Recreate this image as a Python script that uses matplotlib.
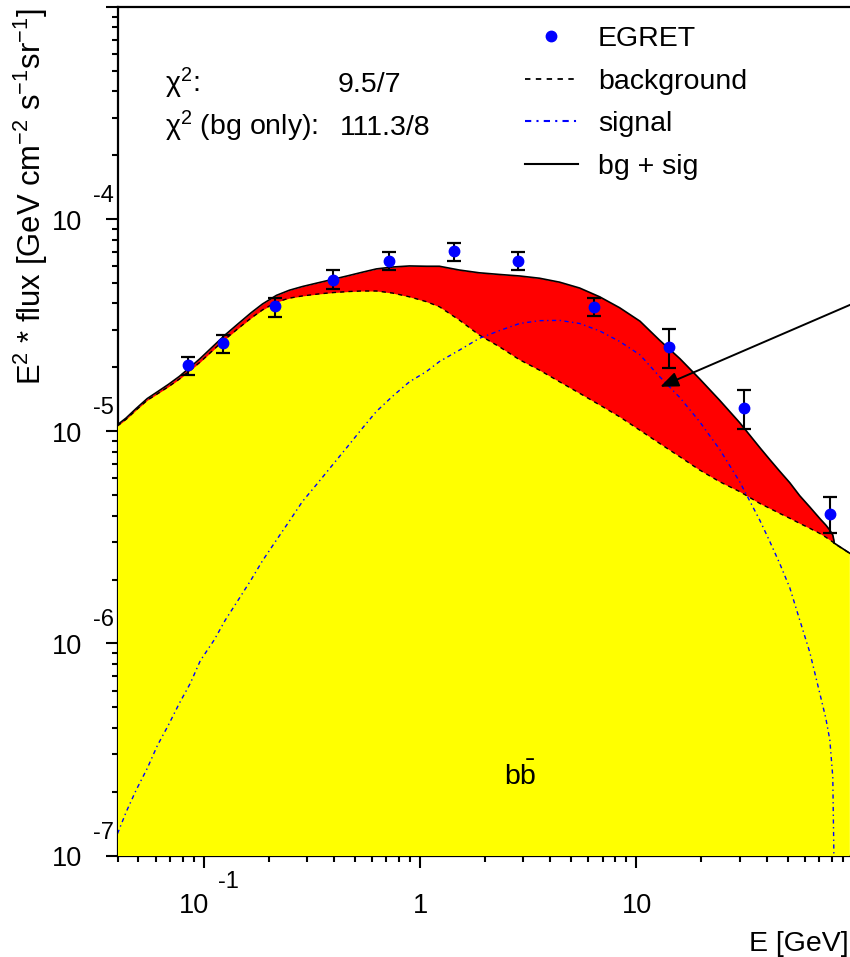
import numpy as np
import matplotlib
matplotlib.use('Agg')
import matplotlib.pyplot as plt
from matplotlib.lines import Line2D
from matplotlib.ticker import LogLocator, NullFormatter
from matplotlib import font_manager as fm

# ---------------- data ----------------
E_curve = [0.0400, 0.0439, 0.0488, 0.0549, 0.0611, 0.0687, 0.0772, 0.0868, 0.0965,
           0.112, 0.126, 0.145, 0.166, 0.187, 0.217, 0.249, 0.286, 0.336, 0.394,
           0.462, 0.536, 0.629, 0.746, 0.894, 1.07, 1.23, 1.52, 1.88, 2.33, 2.89,
           3.57, 4.42, 5.47, 6.77, 8.37, 10.4, 12.8, 15.9, 19.6, 24.3, 30.1, 37.2,
           41.4, 46.0, 51.2, 56.9, 63.3, 70.4, 75.1, 78.4, 80.9, 81.8, 82.2, 97.0]
background = [1.06e-5, 1.14e-5, 1.26e-5, 1.40e-5, 1.50e-5, 1.62e-5, 1.76e-5, 1.94e-5, 2.12e-5,
              2.44e-5, 2.72e-5, 3.06e-5, 3.42e-5, 3.73e-5, 4.06e-5, 4.24e-5, 4.34e-5, 4.43e-5, 4.50e-5,
              4.55e-5, 4.58e-5, 4.58e-5, 4.48e-5, 4.30e-5, 4.08e-5, 3.86e-5, 3.34e-5, 2.84e-5, 2.50e-5, 2.17e-5,
              1.94e-5, 1.71e-5, 1.51e-5, 1.33e-5, 1.17e-5, 1.01e-5, 8.77e-6, 7.58e-6, 6.57e-6, 5.78e-6, 5.19e-6, 4.57e-6,
              4.33e-6, 4.10e-6, 3.89e-6, 3.68e-6, 3.49e-6, 3.30e-6, 3.17e-6, 3.07e-6, 3.01e-6, 2.97e-6, 2.96e-6, 2.66e-6]
signal = [1.27e-7, 1.61e-7, 2.04e-7, 2.58e-7, 3.30e-7, 4.12e-7, 5.22e-7, 6.49e-7, 8.29e-7,
          1.04e-6, 1.29e-6, 1.61e-6, 2.00e-6, 2.45e-6, 3.07e-6, 3.77e-6, 4.66e-6, 5.68e-6, 6.93e-6,
          8.45e-6, 1.02e-5, 1.24e-5, 1.46e-5, 1.71e-5, 1.91e-5, 2.13e-5, 2.41e-5, 2.74e-5, 2.98e-5, 3.22e-5,
          3.32e-5, 3.33e-5, 3.22e-5, 2.97e-5, 2.65e-5, 2.29e-5, 1.81e-5, 1.44e-5, 1.11e-5, 8.20e-6, 5.76e-6, 3.81e-6,
          3.02e-6, 2.38e-6, 1.83e-6, 1.29e-6, 9.11e-7, 5.84e-7, 4.45e-7, 3.51e-7, 2.35e-7, 1.06e-7, 1.0e-8, 0.0]

egret_E = [0.0843, 0.1225, 0.214, 0.395, 0.718, 1.43, 2.83, 6.34, 14.2, 31.5, 78.4]
egret_F = [2.05e-5, 2.61e-5, 3.89e-5, 5.16e-5, 6.36e-5, 7.07e-5, 6.36e-5, 3.86e-5, 2.50e-5, 1.29e-5, 4.07e-6]
egret_hi = [2.24e-5, 2.83e-5, 4.23e-5, 5.73e-5, 6.97e-5, 7.68e-5, 6.97e-5, 4.23e-5, 3.04e-5, 1.56e-5, 4.91e-6]
egret_lo = [1.85e-5, 2.33e-5, 3.47e-5, 4.67e-5, 5.73e-5, 6.33e-5, 5.73e-5, 3.49e-5, 1.99e-5, 1.02e-5, 3.30e-6]

legend_labels = ['EGRET', 'background', 'signal', 'bg + sig']
chi2_fit = '9.5/7'
chi2_bg = '111.3/8'
x_major_ticks = [0.1, 1, 10]
x_major_labels = [('10', '-1'), ('1', None), ('10', None)]
y_major_ticks = [1e-4, 1e-5, 1e-6, 1e-7]
y_major_labels = [('10', '-4'), ('10', '-5'), ('10', '-6'), ('10', '-7')]

# ---------------- fonts ----------------
def font_ok(name):
    try:
        fm.findfont(fm.FontProperties(family=name), fallback_to_default=False)
        return True
    except Exception:
        return False

REG = 'Liberation Sans'
if font_ok('Liberation Sans Narrow'):
    TXT = 'Liberation Sans Narrow'
    FS, TFS, EFS = 25, 23, 20
else:
    TXT = REG
    FS, TFS, EFS = 20.5, 19.5, 17

plt.rcParams['font.family'] = [TXT, 'DejaVu Sans']
plt.rcParams['mathtext.fontset'] = 'custom'
plt.rcParams['mathtext.rm'] = TXT
plt.rcParams['mathtext.it'] = TXT + ':italic'
plt.rcParams['mathtext.bf'] = TXT + ':bold'

W, H = 850, 957
fig = plt.figure(figsize=(W / 100, H / 100), dpi=100)
L, R, T, B = 117.5, 852.7, 6.8, 855.7
ax = fig.add_axes([L / W, 1 - B / H, (R - L) / W, (B - T) / H])
ax.set_xscale('log')
ax.set_yscale('log')
ax.set_xlim(0.04, 100)
ax.set_ylim(1e-7, 1e-3)

E = np.array(E_curve)
bg = np.array(background)
sg = np.array(signal)
tot = bg + sg

ax.fill_between(E, 1e-9, bg, color='#ffff00', lw=0, zorder=3)
ax.fill_between(E, bg, tot, color='#ff0000', lw=0, zorder=3)
ax.plot(E, bg, color='black', ls=(0, (3, 3)), lw=1.0, zorder=4)
m = sg > 0
ax.plot(E[m], sg[m], color='#0000ff', ls=(0, (3, 2.5, 1, 2.5)), lw=1.0, zorder=4)
ax.plot(E, tot, color='black', lw=1.2, zorder=4)

eF = np.array(egret_F)
yerr = [eF - np.array(egret_lo), np.array(egret_hi) - eF]
ax.errorbar(egret_E, eF, yerr=yerr, fmt='o', color='#0000ff', ecolor='black',
            elinewidth=1.5, capsize=4.7, capthick=1.6, markersize=7.5, zorder=6)

# arrow
ax.annotate('', xy=(12.9, 1.62e-5), xytext=(100, 3.99e-5), xycoords='data',
            annotation_clip=False,
            arrowprops=dict(arrowstyle='-|>,head_length=1.1,head_width=0.45',
                            color='black', lw=1.4, shrinkA=0, shrinkB=0), zorder=7)

# spines & ticks
for s in ax.spines.values():
    s.set_linewidth(1.6)
    s.set_zorder(2)
ax.xaxis.set_major_locator(LogLocator(base=10, numticks=20))
ax.xaxis.set_minor_locator(LogLocator(base=10, subs=np.arange(2, 10), numticks=20))
ax.yaxis.set_major_locator(LogLocator(base=10, numticks=20))
ax.yaxis.set_minor_locator(LogLocator(base=10, subs=np.arange(2, 10), numticks=20))
ax.xaxis.set_major_formatter(NullFormatter())
ax.xaxis.set_minor_formatter(NullFormatter())
ax.yaxis.set_major_formatter(NullFormatter())
ax.yaxis.set_minor_formatter(NullFormatter())
ax.tick_params(which='both', direction='out', width=1.5, top=False, right=False,
               labelleft=False, labelbottom=False)
ax.tick_params(which='major', length=8.6)
ax.tick_params(which='minor', length=4.3)

# tick labels (ROOT style)
for v, (base, ex) in zip(x_major_ticks, x_major_labels):
    if ex is None:
        ax.annotate(base, xy=(v, 0), xycoords=('data', 'axes fraction'),
                    xytext=(1, -57.3), textcoords='offset pixels',
                    ha='center', va='baseline', fontsize=TFS)
    else:
        ax.annotate(base, xy=(v, 0), xycoords=('data', 'axes fraction'),
                    xytext=(6, -57.3), textcoords='offset pixels',
                    ha='right', va='baseline', fontsize=TFS)
        ax.annotate(ex, xy=(v, 0), xycoords=('data', 'axes fraction'),
                    xytext=(14, -32.3), textcoords='offset pixels',
                    ha='left', va='baseline', fontsize=EFS)
for v, (base, ex) in zip(y_major_ticks, y_major_labels):
    ax.annotate(base, xy=(0, v), xycoords=('axes fraction', 'data'),
                xytext=(-35.5, -10.5), textcoords='offset pixels',
                ha='right', va='baseline', fontsize=TFS)
    ax.annotate(ex, xy=(0, v), xycoords=('axes fraction', 'data'),
                xytext=(-25, 17), textcoords='offset pixels',
                ha='left', va='baseline', fontsize=EFS)

# axis titles
fig.text(849 / W, 1 - 951 / H, 'E [GeV]', ha='right', va='baseline', fontsize=FS)
fig.text(31 / W, 1 - 8 / H,
         r'E$^{2}$ * flux [GeV cm$^{-2}$ s$^{-1}$sr$^{-1}$]',
         rotation=90, ha='center', va='top', fontsize=22.3, fontfamily=[REG, 'DejaVu Sans'])

# chi2 texts
fig.text(165 / W, 1 - 92 / H, r'χ$^{2}$:', ha='left', va='baseline', fontsize=FS)
fig.text(338 / W, 1 - 92 / H, chi2_fit, ha='left', va='baseline', fontsize=FS)
fig.text(165 / W, 1 - 135 / H, r'χ$^{2}$ (bg only):', ha='left', va='baseline', fontsize=FS)
fig.text(340 / W, 1 - 135 / H, chi2_bg, ha='left', va='baseline', fontsize=FS)

# b bbar label
fig.text(520 / W, 1 - 785 / H, r'$\mathregular{b\bar{b}}$', ha='center', va='baseline', fontsize=FS)

# legend
handles = [Line2D([], [], marker='o', color='#0000ff', ls='none', markersize=7.5),
           Line2D([], [], color='black', ls=(0, (3, 3)), lw=1.3),
           Line2D([], [], color='#0000ff', ls=(0, (3, 2.5, 1, 2.5)), lw=1.5),
           Line2D([], [], color='black', lw=1.5)]
leg = ax.legend(handles, legend_labels, loc='upper left',
                bbox_to_anchor=(525 / W, 1 - 26 / H), bbox_transform=fig.transFigure,
                frameon=False, fontsize=FS, handlelength=1.86, handletextpad=0.7,
                labelspacing=0.586, borderpad=0, borderaxespad=0)
leg.set_zorder(8)

fig.savefig('out.png', dpi=100)
